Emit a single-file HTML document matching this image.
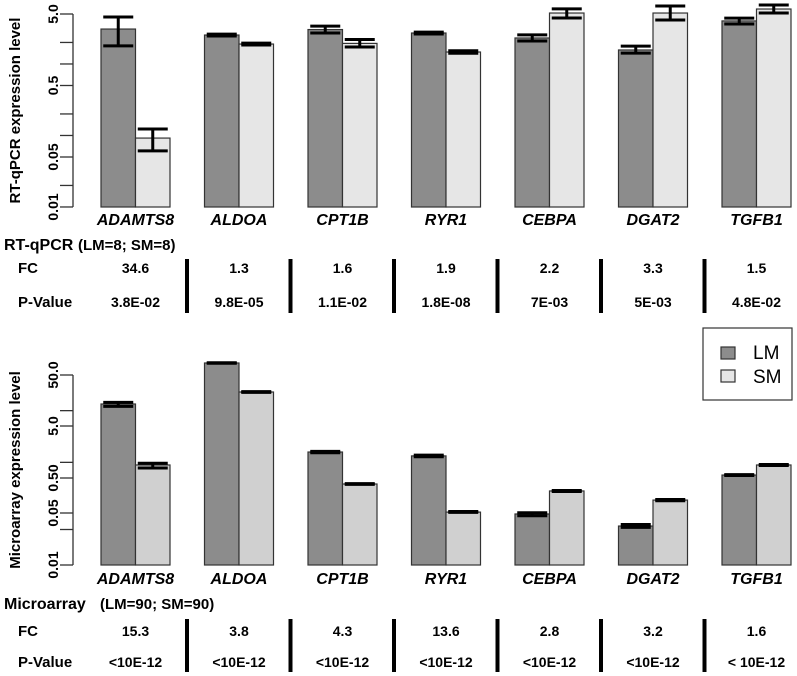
<!DOCTYPE html>
<html><head><meta charset="utf-8"><style>
body{margin:0;background:#fff;}
svg{display:block;font-family:"Liberation Sans",Arial,sans-serif;}
</style></head><body>
<svg id="c" width="797" height="676" xmlns="http://www.w3.org/2000/svg"></svg>
<script>
const genes=["ADAMTS8","ALDOA","CPT1B","RYR1","CEBPA","DGAT2","TGFB1"];
const qLM=[3.08,2.54,3.03,2.71,2.31,1.57,4.0];
const qLMlo=[1.79,2.46,2.71,2.63,2.1,1.42,3.63];
const qLMhi=[4.54,2.62,3.39,2.79,2.55,1.78,4.38];
const qSM=[0.092,1.90,1.94,1.47,5.16,5.16,5.87];
const qSMlo=[0.061,1.84,1.73,1.41,4.39,4.12,5.16];
const qSMhi=[0.123,1.96,2.2,1.53,5.9,6.47,6.68];
const mLM=[13.5,86,1.58,1.33,0.0485,0.0334,0.57];
const mLMlo=[12.1,85,1.53,1.28,0.046,0.032,0.56];
const mLMhi=[14.5,87,1.63,1.38,0.051,0.035,0.58];
const mSM=[0.89,23.2,0.337,0.053,0.213,0.117,0.89];
const mSMlo=[0.78,22.8,0.33,0.052,0.205,0.112,0.87];
const mSMhi=[0.96,23.6,0.345,0.055,0.22,0.122,0.91];
const qFC=["34.6","1.3","1.6","1.9","2.2","3.3","1.5"];
const qP=["3.8E-02","9.8E-05","1.1E-02","1.8E-08","7E-03","5E-03","4.8E-02"];
const mFC=["15.3","3.8","4.3","13.6","2.8","3.2","1.6"];
const mP=["<10E-12","<10E-12","<10E-12","<10E-12","<10E-12","<10E-12","< 10E-12"];
const qTicks=[5,2,1,0.5,0.2,0.1,0.05,0.02,0.01];
const qTickLabels=["5.0","0.5","0.05","0.01"];
const mTicks=[50,10,5,1,0.5,0.05,0.03,0.01];
const mTickLabels=["50.0","5.0","0.50","0.05","0.01"];

const NS="http://www.w3.org/2000/svg";
const svg=document.getElementById('c');
function el(tag,attrs,parent){const e=document.createElementNS(NS,tag);for(const k in attrs)e.setAttribute(k,attrs[k]);(parent||svg).appendChild(e);return e;}
function yq(v){return 14+(Math.log10(5)-Math.log10(v))*71.5;}
const mAnch=[[50,375],[5,426],[0.5,478],[0.05,513],[0.01,565]];
function ym(v){const L=Math.log10(v);
 for(let i=0;i<mAnch.length-1;i++){const a=mAnch[i],b=mAnch[i+1];const la=Math.log10(a[0]),lb=Math.log10(b[0]);
  if(L>=lb||i==mAnch.length-2){return a[1]+(la-L)/(la-lb)*(b[1]-a[1]);}}
}
function groupX(i){return 101+i*103.5;}
const BW=34.5;

function chart(LM,LMlo,LMhi,SM,SMlo,SMhi,yf,base,lightCol,ticks,labels,title,prefix,geneY){
 const g=el('g',{});
 
 
 for(let i=0;i<genes.length;i++){
  const x=groupX(i);
  const sets=[[LM,LMlo,LMhi,'#8c8c8c',x,'lm'],[SM,SMlo,SMhi,lightCol,x+BW,'sm']];
  for(const s of sets){
   const top=yf(s[0][i]);
   const r=el('rect',{x:s[4],y:top,width:BW,height:base-top,fill:s[3],stroke:'#333','stroke-width':1.2},g);
   
   
   const cx=s[4]+BW/2,y1=yf(s[1][i]),y2=yf(s[2][i]);
   const e=el('g',{stroke:'#000','stroke-width':3},g);
   
   
   el('line',{x1:cx,x2:cx,y1:y1,y2:y2},e);
   el('line',{x1:cx-15,x2:cx+15,y1:y1,y2:y1},e);
   el('line',{x1:cx-15,x2:cx+15,y1:y2,y2:y2},e);
  }
  const t=el('text',{x:x+BW,y:geneY,'text-anchor':'middle','font-size':16,'font-weight':'bold','font-style':'italic'},g);
  t.textContent=genes[i];
  
  
 }
 const ax=el('g',{stroke:'#333','stroke-width':1.3},g);
 
 
 el('line',{x1:73,x2:73,y1:yf(ticks[0]),y2:yf(ticks[ticks.length-1])},ax);
 for(const t of ticks){el('line',{x1:60,x2:73,y1:yf(t),y2:yf(t)},ax);}
 for(const l of labels){const y=yf(parseFloat(l));
  const t=el('text',{x:0,y:0,transform:`translate(58,${y}) rotate(-90)`,'text-anchor':'middle','font-size':14,'font-weight':'bold'},g);
  t.textContent=l;
  
  
 }
 const yc=(yf(ticks[0])+base)/2;
 const tt=el('text',{x:0,y:0,transform:`translate(20,${yc}) rotate(-90)`,'text-anchor':'middle','font-size':15,'font-weight':'bold'},g);
 tt.textContent=title;
 
 
}
chart(qLM,qLMlo,qLMhi,qSM,qSMlo,qSMhi,yq,207,'#e6e6e6',qTicks,qTickLabels,'RT-qPCR expression level','qpcr',225);
chart(mLM,mLMlo,mLMhi,mSM,mSMlo,mSMhi,ym,565,'#d0d0d0',mTicks,mTickLabels,'Microarray expression level','microarray',584);

function table(fc,p,fcY,pY,sepTop,sepBot,prefix){
 const g=el('g',{});
 
 
 const a=el('text',{x:18,y:fcY,'font-size':15,'font-weight':'bold'},g);a.textContent='FC';
 
 const b=el('text',{x:18,y:pY,'font-size':15,'font-weight':'bold'},g);b.textContent='P-Value';
 
 for(let i=0;i<genes.length;i++){
  const cx=groupX(i)+BW;
  const f=el('text',{x:cx,y:fcY,'text-anchor':'middle','font-size':14,'font-weight':'bold'},g);f.textContent=fc[i];
  
  const pv=el('text',{x:cx,y:pY,'text-anchor':'middle','font-size':14,'font-weight':'bold'},g);pv.textContent=p[i];
  
  if(i<genes.length-1){const s=el('rect',{x:groupX(i)+BW*2+15,y:sepTop,width:4,height:sepBot-sepTop,fill:'#000'},g);
   }
 }
}
table(qFC,qP,273,307,259,313,'qpcr');
table(mFC,mP,636,667,619,672,'microarray');
</script>
<script>
(function(){
const NS="http://www.w3.org/2000/svg";const svg=document.getElementById('c');
function t(x,y,s,txt,name){const e=document.createElementNS(NS,'text');e.setAttribute('x',x);e.setAttribute('y',y);e.setAttribute('font-size',s);e.setAttribute('font-weight','bold');e.textContent=txt;


svg.appendChild(e);}
t(4,250,16,'RT-qPCR','qpcr-section-title');
t(78,250,15,'(LM=8; SM=8)','qpcr-sample-size');
t(4,609,16,'Microarray','microarray-section-title');
t(100,609,15,'(LM=90; SM=90)','microarray-sample-size');
const lg=document.createElementNS(NS,'g');


svg.appendChild(lg);
function r(x,y,w,h,f,n){const e=document.createElementNS(NS,'rect');e.setAttribute('x',x);e.setAttribute('y',y);e.setAttribute('width',w);e.setAttribute('height',h);e.setAttribute('fill',f);e.setAttribute('stroke','#333');e.setAttribute('stroke-width',1.2);


lg.appendChild(e);}
r(703,328,89,72,'#fff','legend-box');
r(721,347,14,12,'#8c8c8c','legend-swatch-lm');
r(721,370,14,12,'#e6e6e6','legend-swatch-sm');
function lt(y,s){const e=document.createElementNS(NS,'text');e.setAttribute('x',753);e.setAttribute('y',y);e.setAttribute('font-size',19);e.textContent=s;


lg.appendChild(e);}
lt(359,'LM');lt(383,'SM');
})();
</script>
</body></html>
